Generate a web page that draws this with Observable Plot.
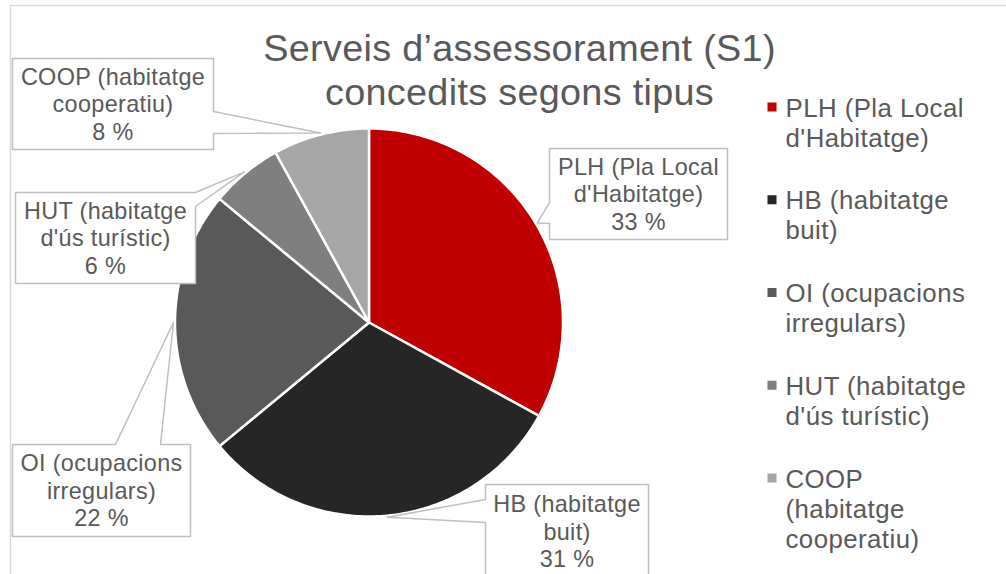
<!DOCTYPE html>
<html>
<head>
<meta charset="utf-8">
<script src="https://cdn.jsdelivr.net/npm/d3@7"></script>
<script src="https://cdn.jsdelivr.net/npm/@observablehq/plot@0.6"></script>
<style>
  html, body { margin: 0; padding: 0; background: #fff; }
  #chart svg { display: block; }
</style>
</head>
<body>
<div id="chart"></div>
<script>
// ---------- data ----------
const categories = ["PLH", "HB", "OI", "HUT", "COOP"];
const shares = [33, 31, 22, 6, 8];
const calloutNames = [
  ["PLH (Pla Local", "d'Habitatge)"],
  ["HB (habitatge", "buit)"],
  ["OI (ocupacions", "irregulars)"],
  ["HUT (habitatge", "d'ús turístic)"],
  ["COOP (habitatge", "cooperatiu)"]
];
const legendNames = [
  ["PLH (Pla Local", "d'Habitatge)"],
  ["HB (habitatge", "buit)"],
  ["OI (ocupacions", "irregulars)"],
  ["HUT (habitatge", "d'ús turístic)"],
  ["COOP", "(habitatge", "cooperatiu)"]
];
const titleLines = ["Serveis d’assessorament (S1)", "concedits segons tipus"];

// ---------- styles / layout ----------
const palette = ["#C00000", "#262626", "#595959", "#7F7F7F", "#A6A6A6"];
const W = 1006, H = 574;
const cx = 368.5, cy = 322, R = 194;
const textColor = "#595959";
const font = "Liberation Sans, Arial, Helvetica, sans-serif";
const labelSize = 23.4, labelLH = 27.5, labelLS = 0.35;
const legendSize = 25.8, legendLH = 30, legendLS = 0.45;
const titleSize = 37.8, titleLS = 0.3;
// callout boxes: [x0, y0, x1, y1, side of pointer, pointer base start, end]
const boxes = {
  PLH:  [549, 148, 727, 239, "left", 202, 223],
  HB:   [485, 484, 648, 578, "left", 499, 522],
  OI:   [12, 444, 190, 536, "top", 115, 160],
  HUT:  [15, 192, 195, 283, "right", 192, 206],
  COOP: [12, 58, 213, 149, "right", 111, 133]
};

// ---------- geometry from data ----------
const rows = categories.map((c, i) => ({name: c, share: shares[i]}));
const arcs = d3.pie().sort(null).value(d => d.share)(rows);
const pt = (a, r) => [cx + r * Math.sin(a), cy - r * Math.cos(a)];

const slicePts = [];
for (const a of arcs) {
  const n = Math.max(2, Math.ceil((a.endAngle - a.startAngle) / (Math.PI / 180)));
  slicePts.push({name: a.data.name, x: cx, y: cy});
  for (let k = 0; k <= n; ++k) {
    const ang = a.startAngle + (a.endAngle - a.startAngle) * k / n;
    const [x, y] = pt(ang, R);
    slicePts.push({name: a.data.name, x, y});
  }
}

const calloutPts = [];
const calloutText = [];
arcs.forEach((a, i) => {
  const name = a.data.name;
  const [x0, y0, x1, y1, side, b0, b1] = boxes[name];
  const mid = (a.startAngle + a.endAngle) / 2;
  const [tx, ty] = pt(mid, R * 1.008);
  const poly = [[x0, y0]];
  if (side === "top") poly.push([b0, y0], [tx, ty], [b1, y0]);
  poly.push([x1, y0]);
  if (side === "right") poly.push([x1, b0], [tx, ty], [x1, b1]);
  poly.push([x1, y1], [x0, y1]);
  if (side === "left") poly.push([x0, b1], [tx, ty], [x0, b0]);
  poly.forEach(([x, y]) => calloutPts.push({name, x, y}));
  const lines = [...calloutNames[i], `${a.data.share} %`];
  const midX = (x0 + x1) / 2, midY = (y0 + y1) / 2 + 0.36 * labelSize;
  lines.forEach((t, j) => calloutText.push({text: t, x: midX, y: midY + (j - (lines.length - 1) / 2) * labelLH}));
});

const legendX = 785, legendTop = 116, legendStep = 92.75;
const legendText = [];
const legendMarks = [];
legendNames.forEach((lines, i) => {
  const base = legendTop + i * legendStep;
  legendMarks.push({name: categories[i], x: legendX - 13.5, y: base - 9.5});
  lines.forEach((t, j) => legendText.push({text: t, x: legendX, y: base + j * legendLH}));
});

const titleRows = titleLines.map((t, i) => ({text: t, x: 519, y: 60 + i * 44}));

const chart = Plot.plot({
  width: W,
  height: H,
  margin: 0,
  x: {domain: [0, W], range: [0, W], axis: null},
  y: {domain: [0, H], range: [0, H], axis: null},
  color: {domain: categories, range: palette},
  style: {background: "white", overflow: "visible"},
  marks: [
    Plot.ruleY([5], {x1: 10, x2: W, stroke: "#D9D9D9", strokeWidth: 1.5}),
    Plot.ruleX([10], {y1: 5, y2: H, stroke: "#D9D9D9", strokeWidth: 1.5}),
    Plot.line(slicePts, {x: "x", y: "y", z: "name", fill: "name", stroke: "white", strokeWidth: 2.5, strokeLinejoin: "round", curve: "linear-closed"}),
    Plot.line(calloutPts, {x: "x", y: "y", z: "name", fill: "white", stroke: "#BFBFBF", strokeWidth: 1.5, curve: "linear-closed"}),
    Plot.text(calloutText, {x: "x", y: "y", text: "text", lineAnchor: "bottom", textAnchor: "middle", fontSize: labelSize, fontFamily: font, fill: textColor}),
    Plot.text(titleRows, {x: "x", y: "y", text: "text", lineAnchor: "bottom", textAnchor: "middle", fontSize: titleSize, fontFamily: font, fill: textColor}),
    Plot.dot(legendMarks, {x: "x", y: "y", fill: "name", symbol: "square", r: 5.1, stroke: null}),
    Plot.text(legendText, {x: "x", y: "y", text: "text", lineAnchor: "bottom", textAnchor: "start", fontSize: legendSize, fontFamily: font, fill: textColor})
  ]
});
// slight letter spacing per text group
d3.select(chart).selectAll("g[font-size]").each(function () {
  const fs = +this.getAttribute("font-size");
  const ls = fs === labelSize ? labelLS : fs === legendSize ? legendLS : fs === titleSize ? titleLS : 0;
  if (ls) this.setAttribute("letter-spacing", ls);
});
document.getElementById("chart").append(chart);
</script>
</body>
</html>
